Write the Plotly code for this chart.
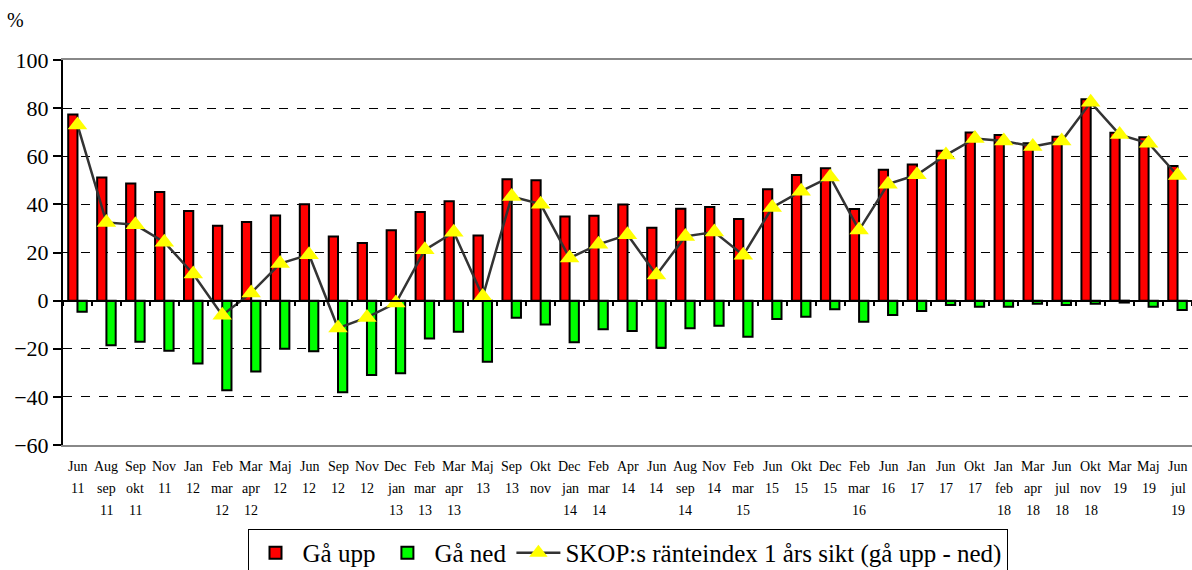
import plotly.graph_objects as go

# ---- data ----
categories = ["Jun 11", "Aug sep 11", "Sep okt 11", "Nov 11", "Jan 12", "Feb mar 12", "Mar apr 12",
              "Maj 12", "Jun 12", "Sep 12", "Nov 12", "Dec jan 13", "Feb mar 13", "Mar apr 13",
              "Maj 13", "Sep 13", "Okt nov", "Dec jan 14", "Feb mar 14", "Apr 14", "Jun 14",
              "Aug sep 14", "Nov 14", "Feb mar 15", "Jun 15", "Okt 15", "Dec 15", "Feb mar 16",
              "Jun 16", "Jan 17", "Jun 17", "Okt 17", "Jan feb 18", "Mar apr 18", "Jun jul 18",
              "Okt nov 18", "Mar 19", "Maj 19", "Jun jul 19"]
ga_upp = [77.4, 51.2, 48.7, 45.1, 37.2, 31.1, 32.7, 35.4, 40.1, 26.7, 23.9, 29.2, 36.8, 41.3,
          27.1, 50.4, 50.0, 35.0, 35.3, 40.0, 30.3, 38.2, 38.9, 33.9, 46.3, 52.2, 55.0, 38.1,
          54.4, 56.6, 62.3, 69.9, 68.8, 65.4, 68.1, 83.7, 69.8, 67.9, 55.9]
ga_ned = [-4.6, -18.5, -17.1, -20.8, -26.1, -37.2, -29.5, -20.0, -21.0, -38.1, -30.9, -30.2, -15.7, -12.9,
          -25.4, -7.1, -9.9, -17.3, -11.9, -12.6, -19.6, -11.5, -10.4, -15.0, -7.6, -6.7, -3.6, -8.8,
          -6.0, -4.3, -1.8, -2.5, -2.5, -1.3, -1.8, -1.3, -0.8, -2.5, -3.9]
index = [73, 32.5, 31.5, 24.3, 11.1, -6.1, 3.2, 15.4, 19.1, -11.4, -7.0, -1.0, 21.1, 28.4,
         1.7, 43.3, 40.1, 17.7, 23.4, 27.4, 10.7, 26.7, 28.5, 18.9, 38.7, 45.5, 51.4, 29.3,
         48.4, 52.3, 60.5, 67.4, 66.3, 64.1, 66.3, 82.4, 69.0, 65.4, 52.0]
y_ticks = [-60, -40, -20, 0, 20, 40, 60, 80, 100]

SERIF = "Liberation Serif, Times New Roman, serif"

fig = go.Figure()
fig.add_trace(go.Bar(x=categories, y=ga_upp, name="Gå upp",
                     marker=dict(color="#FF0000", line=dict(color="black", width=2))))
fig.add_trace(go.Bar(x=categories, y=ga_ned, name="Gå ned",
                     marker=dict(color="#00FF00", line=dict(color="black", width=2))))
fig.add_trace(go.Scatter(x=categories, y=index, name="SKOP:s ränteindex 1 års sikt (gå upp - ned)",
                         mode="lines+markers",
                         line=dict(color="#333333", width=2.5),
                         marker=dict(symbol="triangle-up", size=17, color="#FFFF00",
                                     line=dict(width=0))))
# helper trace for the zero category axis (tick marks between categories)
fig.add_trace(go.Scatter(x=categories, y=index, xaxis="x2", mode="markers",
                         marker=dict(opacity=0), showlegend=False, hoverinfo="skip"))

# multi-line category labels as rows
annotations = []
for cat in categories:
    parts = cat.split(" ")
    for row, txt in enumerate(parts):
        annotations.append(dict(x=cat, xref="x", y=0, yref="paper", text=txt,
                                showarrow=False, yanchor="middle", xanchor="center",
                                yshift=-21 - 22 * row,
                                font=dict(family=SERIF, size=14, color="black")))
annotations.append(dict(x=-0.0425, y=1.104, xref="paper", yref="paper", text="%",
                        xanchor="center", yanchor="middle",
                        showarrow=False, font=dict(family=SERIF, size=20, color="black")))

fig.update_layout(
    width=1192, height=570,
    margin=dict(l=63, r=0, t=60, b=125, autoexpand=False),
    paper_bgcolor="white", plot_bgcolor="white",
    barmode="group", bargap=0.36, bargroupgap=0,
    font=dict(family=SERIF, color="black"),
    xaxis=dict(type="category", categoryorder="array", categoryarray=categories,
               range=[-0.5, len(categories) - 0.5], automargin=False,
               showticklabels=False, ticks="", showgrid=False,
               showline=True, linecolor="#888888", linewidth=2, mirror=True),
    xaxis2=dict(type="category", categoryorder="array", categoryarray=categories,
                range=[-0.5, len(categories) - 0.5], automargin=False,
                overlaying="x", anchor="free", position=0.375,
                showticklabels=False, tickson="boundaries", ticks="outside",
                ticklen=5, tickcolor="black", tickwidth=1.5,
                showgrid=False, showline=True, linecolor="black", linewidth=1.5),
    yaxis=dict(range=[-60, 100], tickvals=y_ticks, ticks="outside", ticklen=8,
               tickcolor="black", tickwidth=1.5, automargin=False,
               tickfont=dict(family=SERIF, size=22, color="black"),
               showgrid=True, gridcolor="black", griddash="dash", gridwidth=1,
               zeroline=False, showline=True, linecolor="black", linewidth=2),
    legend=dict(orientation="h", x=0.5, xanchor="center", y=-0.218, yanchor="top",
                bordercolor="black", borderwidth=1, bgcolor="white",
                font=dict(family=SERIF, size=25, color="black"),
                itemwidth=44, traceorder="normal"),
    annotations=annotations,
    showlegend=True,
)

fig.write_html("out.html", config={"displayModeBar": False},
               post_script="document.body.style.margin='0';document.body.style.overflow='hidden';")
